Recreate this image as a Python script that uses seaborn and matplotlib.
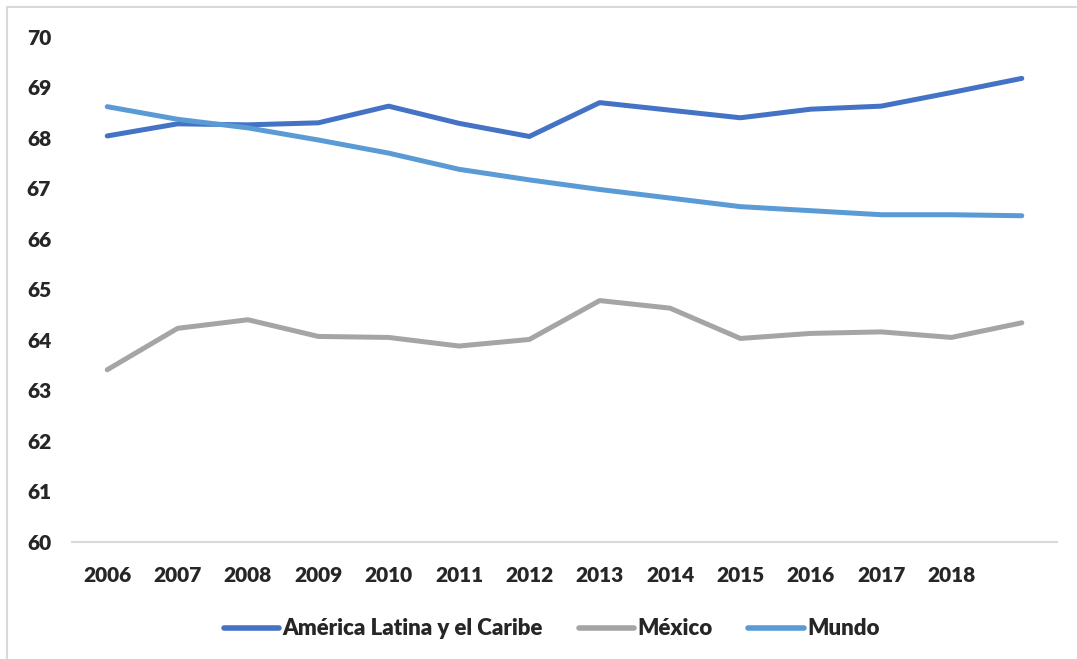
import matplotlib
matplotlib.use("Agg")
import matplotlib.pyplot as plt
import seaborn as sns
import pandas as pd
from matplotlib.patches import Rectangle

years = list(range(2006, 2020))
tick_years = list(range(2006, 2019))
alc = [68.04, 68.28, 68.26, 68.30, 68.63, 68.29, 68.03, 68.70, 68.55, 68.40, 68.57, 68.63, 68.90, 69.18]
mexico = [63.41, 64.23, 64.40, 64.07, 64.05, 63.88, 64.01, 64.78, 64.63, 64.03, 64.13, 64.16, 64.05, 64.34]
mundo = [68.62, 68.37, 68.20, 67.96, 67.70, 67.38, 67.17, 66.98, 66.81, 66.64, 66.56, 66.48, 66.48, 66.46]
series_names = ["América Latina y el Caribe", "México", "Mundo"]
colors = ["#4472C4", "#A5A5A5", "#5B9BD5"]
y_ticks = list(range(60, 71))

df = pd.concat([
    pd.DataFrame({"year": years, "value": vals, "serie": name})
    for name, vals in zip(series_names, [alc, mexico, mundo])
])

sns.set_style("white")
plt.rcParams["font.family"] = ["Lato", "DejaVu Sans"]

fig = plt.figure(figsize=(10.77, 6.59), dpi=100)
ax = fig.add_axes([0.0669, 0.1776, 0.9145, 0.7663])

sns.lineplot(data=df, x="year", y="value", hue="serie", hue_order=series_names,
             palette=dict(zip(series_names, colors)), linewidth=3.6, ax=ax)

for line in ax.get_lines():
    line.set_solid_capstyle("round")
    line.set_solid_joinstyle("round")

ax.set_xlim(2005.5, 2019.5)
ax.set_ylim(60, 70)
ax.set_xticks(tick_years)
ax.set_xticklabels([str(y) for y in tick_years], fontsize=15, fontweight="heavy")
ax.set_yticks(y_ticks)
ax.set_yticklabels([str(y) for y in y_ticks], fontsize=15, fontweight="heavy")
ax.tick_params(axis="x", length=0, pad=17)
ax.tick_params(axis="y", length=0, pad=15)
ax.set_xlabel("")
ax.set_ylabel("")
for s in ["top", "right", "left"]:
    ax.spines[s].set_visible(False)
ax.spines["bottom"].set_color("#D9D9D9")
ax.spines["bottom"].set_linewidth(1.5)

leg = ax.legend(loc="center", bbox_to_anchor=(0.487, -0.172), ncol=3, frameon=False,
                prop={"weight": "heavy", "size": 16}, handlelength=2.5,
                handletextpad=0.15, columnspacing=1.6)
for h in leg.legend_handles:
    h.set_linewidth(4)
    h.set_solid_capstyle("round")

fig.patches.append(Rectangle((7 / 1077, -0.1), 1.2, 1 - 7 / 659 + 0.1,
                             transform=fig.transFigure, fill=False,
                             edgecolor="#D9D9D9", linewidth=1.5))

fig.savefig("out.png", dpi=100)
